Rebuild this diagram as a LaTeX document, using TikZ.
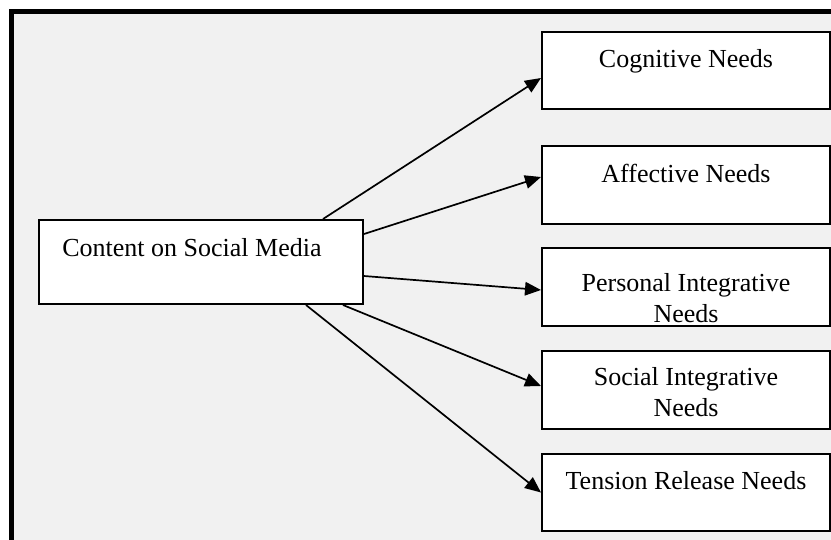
\documentclass[tikz,border=0pt]{standalone}
\usepackage{fontspec}
\setmainfont{Liberation Serif}
\usetikzlibrary{arrows.meta}
\definecolor{bggray}{HTML}{F1F1F1}
\begin{document}
\begin{tikzpicture}[x=1pt,y=-1pt,
  box/.style={draw=black, line width=2pt, fill=white, inner sep=0pt, anchor=north west},
  txt/.style={font=\fontsize{26}{31}\selectfont, inner sep=0pt, align=center, anchor=base},
  arr/.style={line width=1.7pt, -{Triangle[length=16pt,width=13.5pt]}, shorten >=0pt}]
\useasboundingbox (0,0) rectangle (831,539);
\clip (0,0) rectangle (831,539);
\fill[white] (0,0) rectangle (831,539);
\draw[line width=5pt, fill=bggray] (11.5,11.5) rectangle (860,580);
% source box
\node[box, minimum width=324pt, minimum height=84pt] (src) at (38,219) {};
\node[txt] (srct) at (192,256) {Content on Social Media};
% target boxes
\node[box, minimum width=288pt, minimum height=77pt] (b1) at (541,31) {};
\node[txt] (t1) at (686,67) {Cognitive Needs};
\node[box, minimum width=288pt, minimum height=78pt] (b2) at (541,145) {};
\node[txt] (t2) at (686,182) {Affective Needs};
\node[box, minimum width=288pt, minimum height=78pt] (b3) at (541,247) {};
\node[txt] (t3a) at (686,291) {Personal Integrative};
\node[txt] (t3b) at (686,322) {Needs};
\node[box, minimum width=288pt, minimum height=78pt] (b4) at (541,350) {};
\node[txt] (t4a) at (686,385) {Social Integrative};
\node[txt] (t4b) at (686,416) {Needs};
\node[box, minimum width=288pt, minimum height=77pt] (b5) at (541,453) {};
\node[txt] (t5) at (686,489) {Tension Release Needs};
% connectors
\draw[arr] ([xshift=122pt]src.north) -- ([yshift=-7.5pt]b1.west);
\draw[arr] ([yshift=28pt]src.east) -- ([yshift=8pt]b2.west);
\draw[arr] ([yshift=-14pt]src.east) -- ([yshift=-3pt]b3.west);
\draw[arr] ([xshift=142pt]src.south) -- ([yshift=4pt]b4.west);
\draw[arr] ([xshift=105pt]src.south) -- (b5.west);
\end{tikzpicture}
\end{document}
